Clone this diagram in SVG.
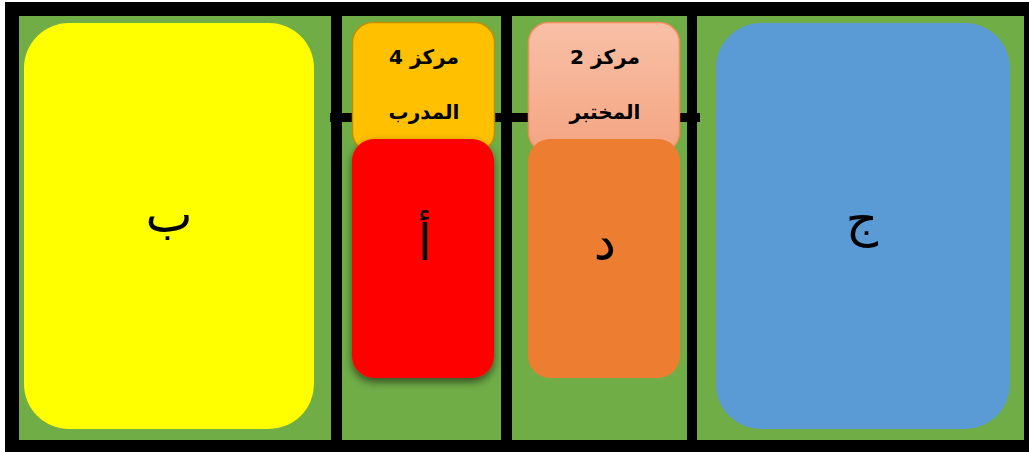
<svg xmlns="http://www.w3.org/2000/svg" width="1029" height="452" viewBox="0 0 1029 452">
<style>
.panel{fill:#70AD47}
.big{font-family:"DejaVu Sans","Noto Sans",sans-serif;font-size:50px;fill:#000;text-anchor:middle}
.lbl{font-family:"DejaVu Sans","Noto Sans",sans-serif;font-size:20px;font-weight:bold;fill:#000;text-anchor:middle}
</style>
<defs>
<linearGradient id="pink" x1="0" y1="0" x2="0" y2="1">
<stop offset="0" stop-color="#F8C0A6"/>
<stop offset="1" stop-color="#F4A582"/>
</linearGradient>
<filter id="sh" x="-20%" y="-20%" width="140%" height="140%">
<feDropShadow dx="0" dy="4" stdDeviation="4" flood-color="#000" flood-opacity="0.55"/>
</filter>
</defs>
<rect x="0" y="0" width="1029" height="452" fill="#fff"/>
<rect x="5" y="2" width="1024" height="450" fill="#000"/>
<g id="panels">
<rect class="panel" x="19" y="16" width="312" height="424"/>
<rect class="panel" x="342" y="16" width="159" height="424"/>
<rect class="panel" x="512" y="16" width="175" height="424"/>
<rect class="panel" x="697" y="16" width="327" height="424"/>
<rect x="330" y="113" width="370" height="9" fill="#000"/>
</g>
<g id="node-b">
<rect x="24" y="23" width="290" height="406" rx="45" ry="45" fill="#FFFF00"/>
<text class="big" x="169" y="232">ب</text>
</g>
<g id="node-j">
<rect x="716" y="23" width="294" height="406" rx="45" ry="45" fill="#5B9BD5"/>
<text class="big" x="862" y="236">ج</text>
</g>
<g id="node-center4">
<rect x="352.5" y="22.5" width="142" height="130" rx="20" ry="20" fill="#FFC000" stroke="#BF9000" stroke-width="1.5"/>
<text class="lbl" x="424" y="64">مركز 4</text>
<text class="lbl" x="424" y="119">المدرب</text>
</g>
<g id="node-center2">
<rect x="528.5" y="22.5" width="151" height="130" rx="20" ry="20" fill="url(#pink)" stroke="#F08C5A" stroke-width="1.5"/>
<text class="lbl" x="605" y="64">مركز 2</text>
<text class="lbl" x="605" y="119">المختبر</text>
</g>
<g id="node-a">
<rect x="352" y="139" width="142" height="239" rx="22" ry="22" fill="#FF0000" filter="url(#sh)"/>
<text class="big" x="425" y="260">أ</text>
</g>
<g id="node-d">
<rect x="528" y="139" width="152" height="239" rx="22" ry="22" fill="#ED7D31"/>
<text class="big" x="605" y="260">د</text>
</g>
<g id="connectors"></g>
</svg>
